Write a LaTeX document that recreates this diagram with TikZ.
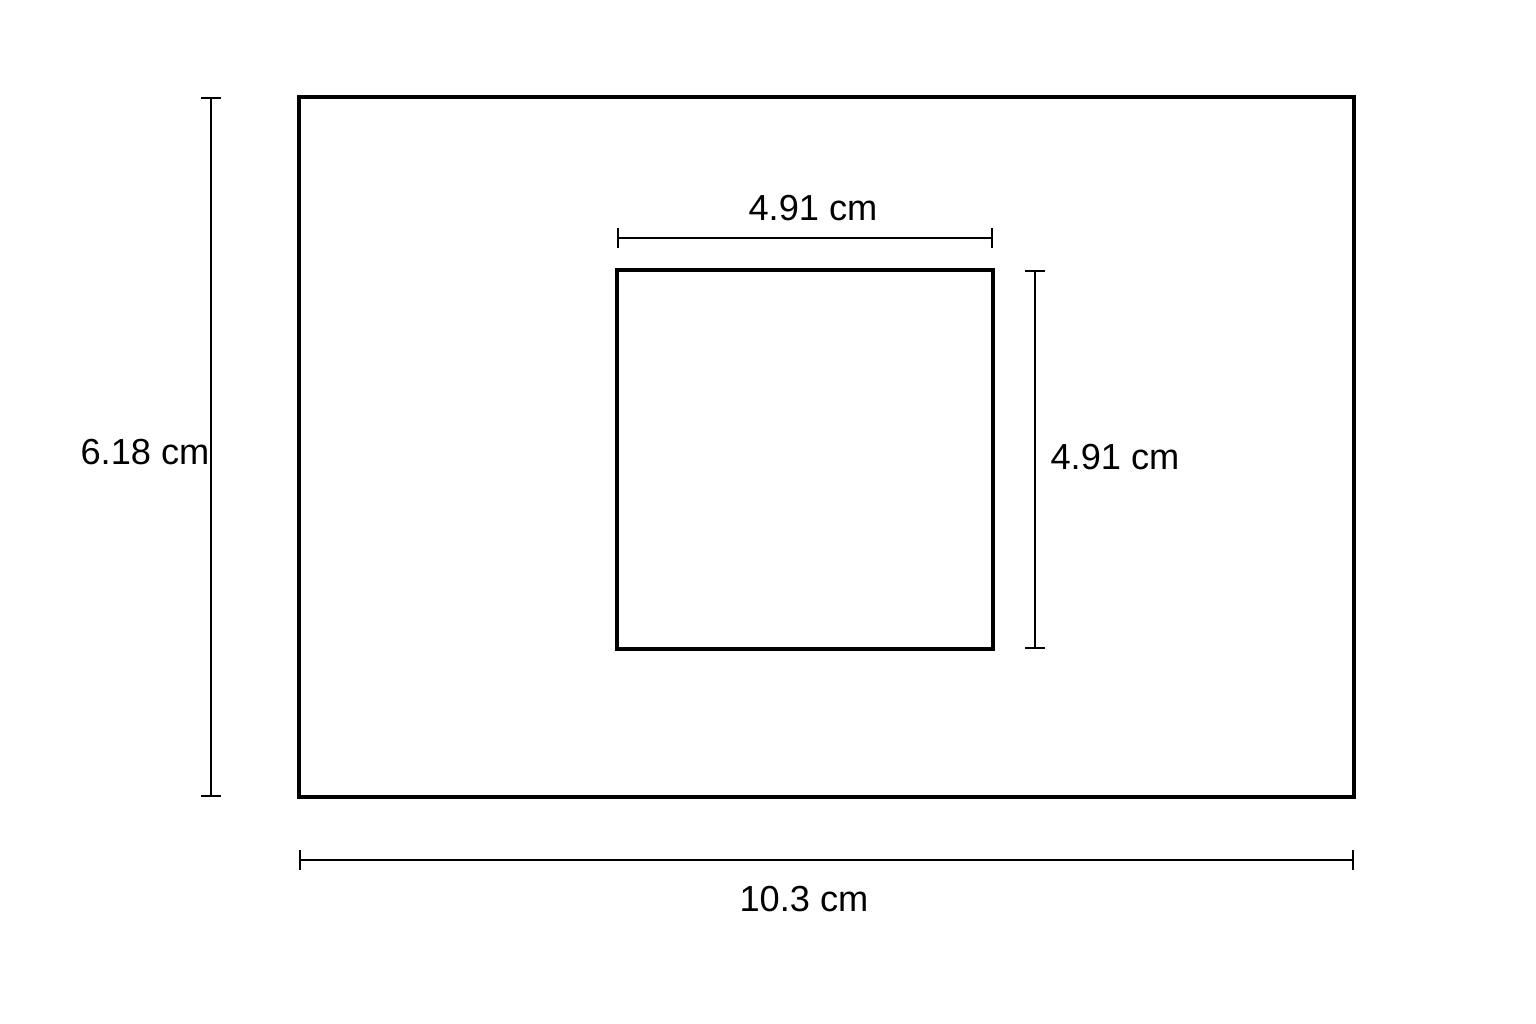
\documentclass[tikz,border=0pt]{standalone}
\usepackage{fontspec}
\setmainfont{Liberation Sans}
\usetikzlibrary{arrows.meta, positioning}
\tikzstyle{frame} = [draw=black, line width=0.9pt]
\tikzstyle{dimline} = [draw=black, line width=0.45pt, {Bar[width=5.8pt]}-{Bar[width=5.8pt]}]
\tikzstyle{dimlabel} = [font=\fontsize{10.3}{12}\selectfont, inner sep=0pt]

\begin{document}
\begin{tikzpicture}[x=0.01cm, y=-0.01cm]
    \useasboundingbox (0,0) rectangle (1536,1024);
    \coordinate (outerNW) at (299,97);
    \coordinate (outerSE) at (1354,797);
    \coordinate (innerNW) at (617,270);
    \coordinate (innerSE) at (993,649);
    \draw [frame] (outerNW) rectangle (outerSE);
    \draw [frame] (innerNW) rectangle (innerSE);

    \coordinate (topL) at (617,238);
    \coordinate (topR) at (993,238);
    \node (toplabel) [dimlabel] at (813,208) {4.91 cm};
    \draw [dimline] (topL) -- (topR);

    \coordinate (rightT) at (1035,270);
    \coordinate (rightB) at (1035,649);
    \node (rightlabel) [dimlabel] at (1115,457) {4.91 cm};
    \draw [dimline] (rightT) -- (rightB);

    \coordinate (leftT) at (211,97);
    \coordinate (leftB) at (211,797);
    \node (leftlabel) [dimlabel] at (145,452) {6.18 cm};
    \draw [dimline] (leftT) -- (leftB);

    \coordinate (bottomL) at (299,860);
    \coordinate (bottomR) at (1354,860);
    \node (bottomlabel) [dimlabel] at (804,899) {10.3 cm};
    \draw [dimline] (bottomL) -- (bottomR);
\end{tikzpicture}
\end{document}
